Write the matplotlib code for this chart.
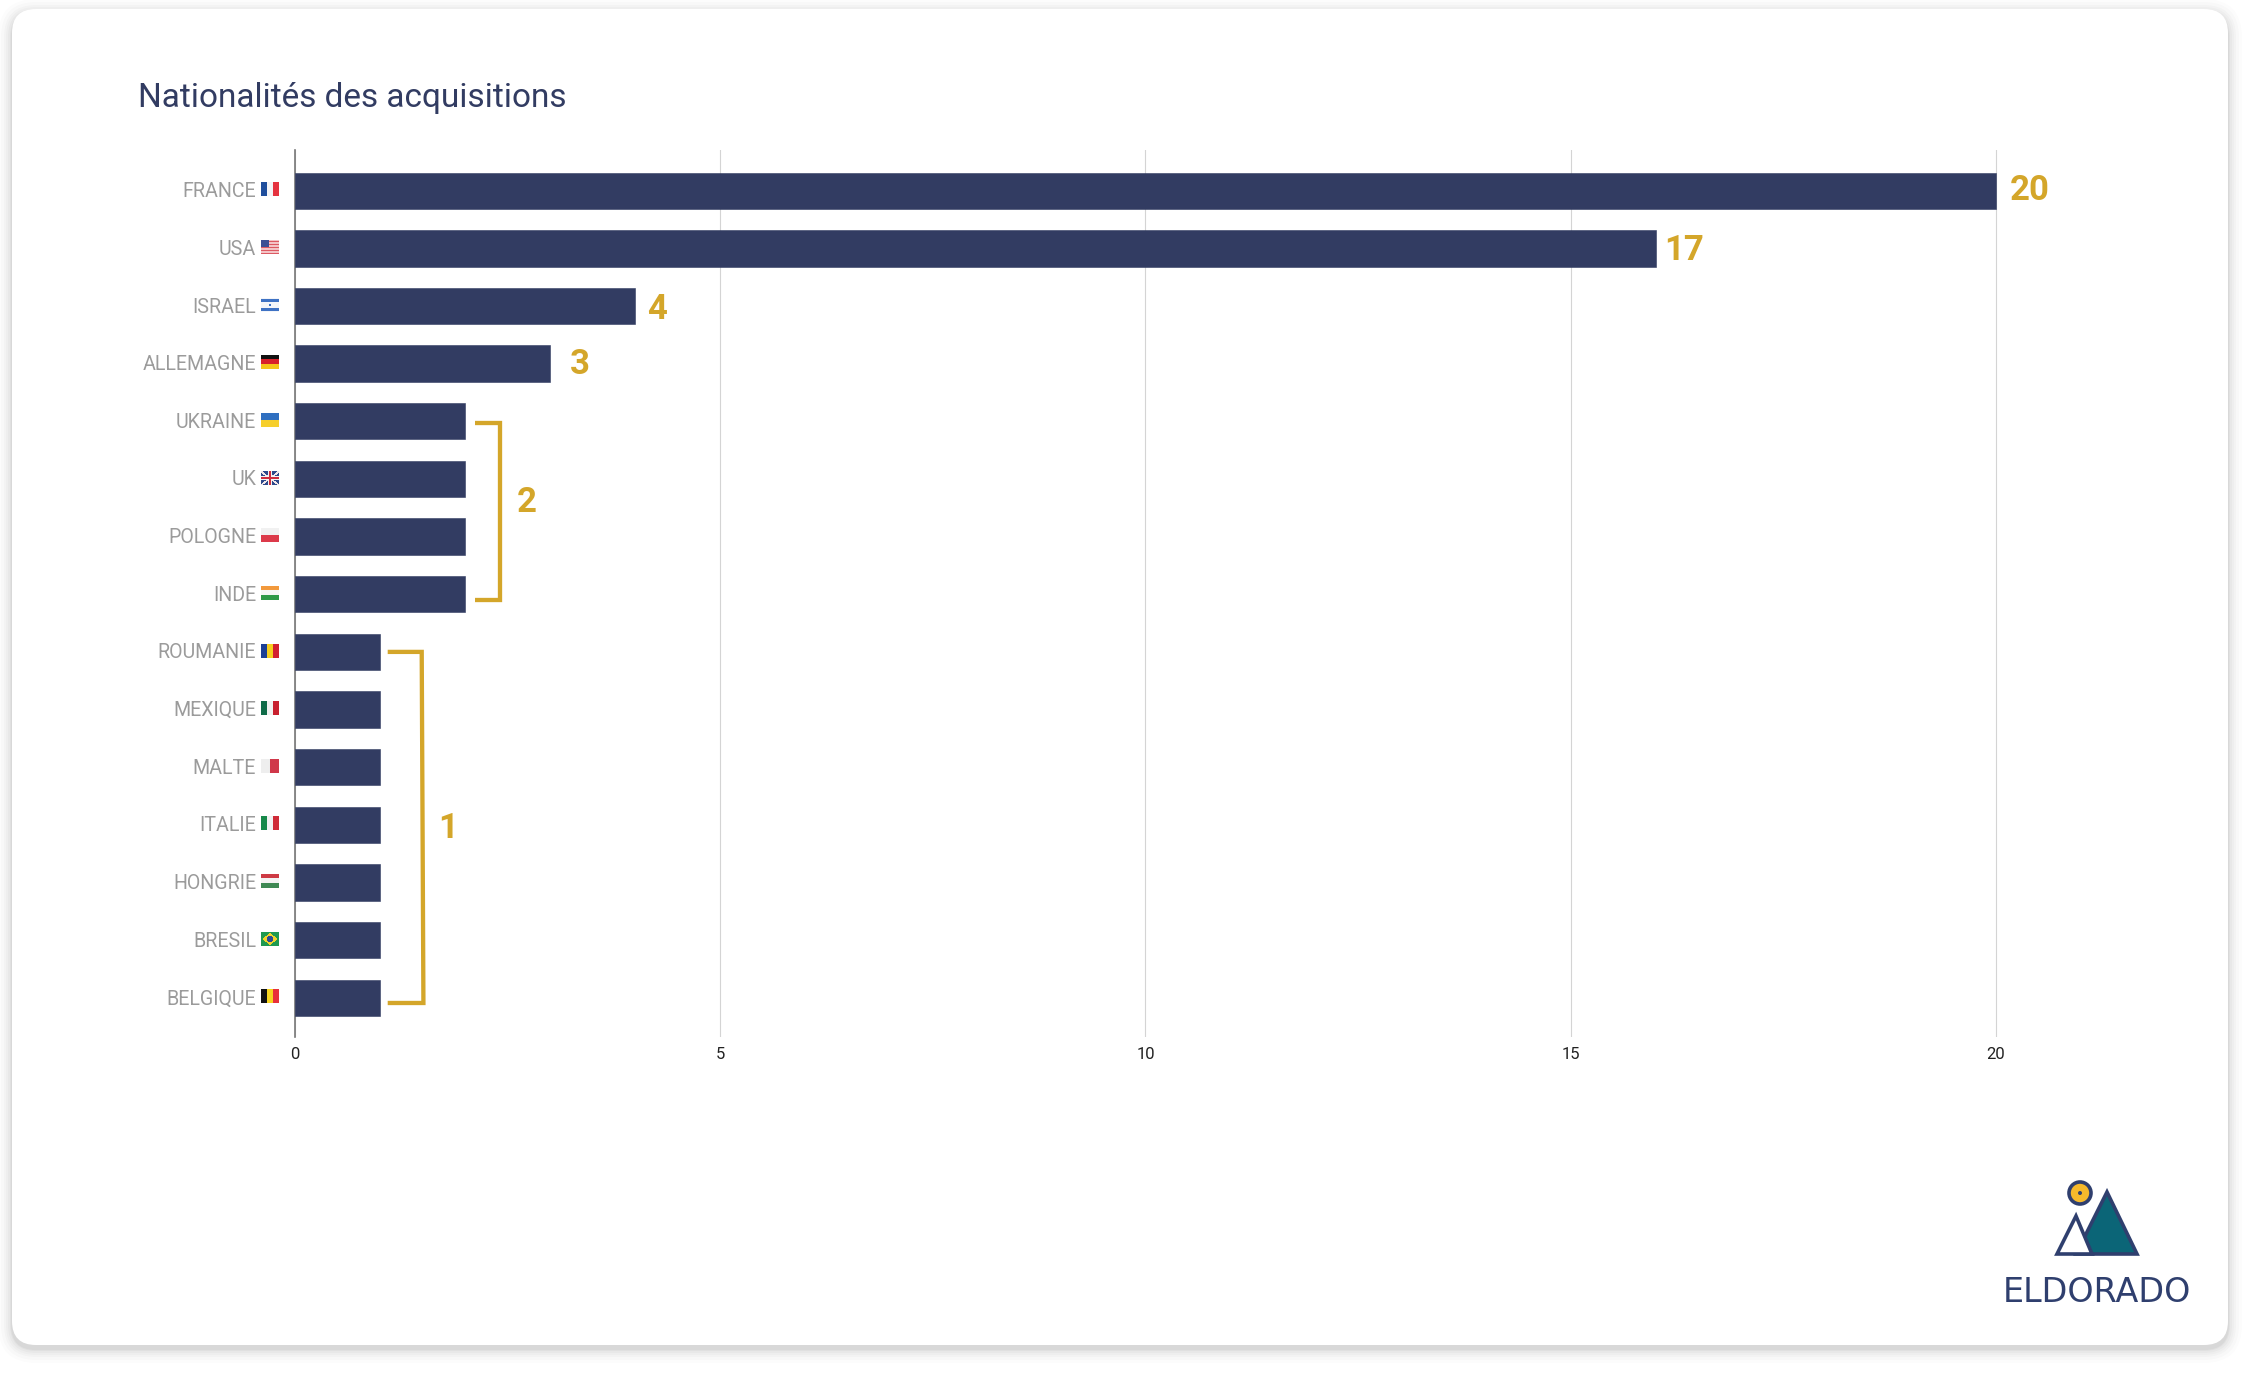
"""
Nationalités des acquisitions - horizontal bars with group brackets.
"""

import numpy as np
import matplotlib
matplotlib.use('Agg')
import matplotlib.pyplot as plt
from matplotlib.patches import FancyBboxPatch, Polygon, Circle
from matplotlib.offsetbox import OffsetImage, AnnotationBbox
from matplotlib.transforms import ScaledTranslation

plt.rcParams['font.family'] = ['Roboto', 'DejaVu Sans']

NAVY = '#323c62'
GOLD = '#d4a62a'
GREY = '#9b9b9b'
W, H = 2256, 1374

COUNTRIES = [
    ('FRANCE', 20, 'fr'), ('USA', 16, 'us'), ('ISRAEL', 4, 'il'),
    ('ALLEMAGNE', 3, 'de'), ('UKRAINE', 2, 'ua'), ('UK', 2, 'uk'),
    ('POLOGNE', 2, 'pl'), ('INDE', 2, 'in'), ('ROUMANIE', 1, 'ro'),
    ('MEXIQUE', 1, 'mx'), ('MALTE', 1, 'mt'), ('ITALIE', 1, 'it'),
    ('HONGRIE', 1, 'hu'), ('BRESIL', 1, 'br'), ('BELGIQUE', 1, 'be'),
]

STRIPES = {
    'fr': ('v', ['#1f4e9c', '#f4f4f6', '#e5333f']),
    'de': ('h', ['#111111', '#d8202a', '#f5c518']),
    'ua': ('h', ['#2f6fc0', '#f6cf2c']),
    'pl': ('h', ['#f2f2f2', '#dc3a4a']),
    'in': ('h', ['#f39a3c', '#f6f6f6', '#2f9a48']),
    'ro': ('v', ['#1d3f94', '#f7ce1e', '#d3202f']),
    'mx': ('v', ['#0f6b48', '#f2f2f2', '#c8202f']),
    'mt': ('v', ['#eeeeee', '#d0384a']),
    'it': ('v', ['#17894a', '#f3f3f3', '#cf2b37']),
    'hu': ('h', ['#ce3a44', '#f4f4f4', '#3f8a55']),
    'be': ('v', ['#111111', '#f6d420', '#e8303a']),
}


def to_rgb(c):
    return np.array(matplotlib.colors.to_rgb(c))


def make_flag(key, h=14, w=18):
    img = np.ones((h, w, 3))
    if key in STRIPES:
        direction, cols = STRIPES[key]
        n = len(cols)
        for j, c in enumerate(cols):
            if direction == 'v':
                img[:, j * w // n:(j + 1) * w // n] = to_rgb(c)
            else:
                img[j * h // n:(j + 1) * h // n, :] = to_rgb(c)
    elif key == 'us':
        img[:] = to_rgb('#f4c4c6')
        img[1::3, :] = to_rgb('#dc5a63')
        img[:7, :8] = to_rgb('#3a4f94')
    elif key == 'il':
        img[:] = to_rgb('#f4f6fa')
        img[1:4, :] = to_rgb('#3e72c4')
        img[10:13, :] = to_rgb('#3e72c4')
        img[6:8, 8:10] = to_rgb('#3e72c4')
    elif key == 'uk':
        img[:] = to_rgb('#2f4a8c')
        for r in range(h):
            c = int(r * (w - 1) / (h - 1))
            img[r, max(c - 1, 0):c + 2] = to_rgb('#f2e6e8')
            img[r, max(w - c - 2, 0):w - c + 1] = to_rgb('#f2e6e8')
        img[5:9, :] = to_rgb('#f4f4f4')
        img[:, 7:11] = to_rgb('#f4f4f4')
        img[6:8, :] = to_rgb('#cf2b3d')
        img[:, 8:10] = to_rgb('#cf2b3d')
    elif key == 'br':
        img[:] = to_rgb('#1f9a50')
        for r in range(h):
            for c in range(w):
                if abs(r - 6.5) / 6 + abs(c - 8.5) / 8 < 1:
                    img[r, c] = to_rgb('#f3d32a')
                if (r - 6.5) ** 2 + (c - 8.5) ** 2 < 9:
                    img[r, c] = to_rgb('#2b4a94')
    return img


fig = plt.figure(figsize=(W / 100, H / 100), dpi=100, facecolor='white')

# fond : carte blanche + ombre, en pixels
bg = fig.add_axes([0, 0, 1, 1], zorder=0)
bg.set_xlim(0, W)
bg.set_ylim(H, 0)
bg.axis('off')
for grow, alpha in zip([14, 11, 8, 6, 4, 2, 1], [0.01, 0.014, 0.018, 0.02, 0.025, 0.03, 0.035]):
    bg.add_patch(FancyBboxPatch(
        (34 - grow, 31 - grow + 4), 2172 + 2 * grow, 1292 + 2 * grow,
        boxstyle=f'round,pad=22,rounding_size={24 + grow}',
        fc='black', ec='none', alpha=alpha))
bg.add_patch(FancyBboxPatch(
    (34, 31), 2172, 1292,
    boxstyle='round,pad=22,rounding_size=24', fc='white', ec='none'))

ax = fig.add_axes([295 / W, 1 - 1037 / H, 1871 / W, 887 / H], zorder=1)
ax.patch.set_alpha(0)

names = [c[0] for c in COUNTRIES]
values = [c[1] for c in COUNTRIES]
ypos = np.arange(len(names))

bars = ax.barh(ypos, values, height=0.63, color=NAVY, edgecolor=NAVY,
               linewidth=0.4, zorder=3)
for b in bars:
    b.set_joinstyle('round')

ax.set_xlim(0, 22)
ax.set_ylim(14.68, -0.706)
ax.set_xticks([0, 5, 10, 15, 20])
ax.set_yticks(ypos, names)
ax.tick_params(axis='x', length=0, pad=7, labelsize=12, labelcolor='#222222')
ax.tick_params(axis='y', length=0, pad=28, labelsize=14.1, labelcolor=GREY)
lift = ScaledTranslation(0, 1 / 100, fig.dpi_scale_trans)
for lab in ax.get_yticklabels():
    lab.set_transform(lab.get_transform() + lift)
ax.xaxis.grid(True, color='#d4d4d4', linewidth=0.8, zorder=0)
ax.set_axisbelow(True)
for side in ['top', 'right', 'bottom']:
    ax.spines[side].set_visible(False)
ax.spines['left'].set_color('#777777')
ax.spines['left'].set_linewidth(1.2)

# drapeaux (pas de police emoji couleur ici)
for i, (_, _, key) in enumerate(COUNTRIES):
    im = OffsetImage(make_flag(key), zoom=0.72, interpolation='bilinear')
    ab = AnnotationBbox(im, (0, i), xycoords=ax.get_yaxis_transform(),
                        xybox=(-18, 1), boxcoords='offset points', frameon=False,
                        annotation_clip=False)
    ax.add_artist(ab)

# valeurs affichées (17 sur la barre USA, comme sur l'original)
LABELS = [(20.16, 0.0, '20', 'left'), (16.1, 1.03, '17', 'left'),
          (4.26, 2.06, '4', 'center'), (3.35, 3.02, '3', 'center'),
          (2.72, 5.41, '2', 'center'), (1.8, 11.06, '1', 'center')]
for x, y, txt, ha in LABELS:
    ax.text(x, y, txt, color=GOLD, fontsize=25, fontweight='bold',
            ha=ha, va='center', zorder=4)

# accolades
BRACKETS = [([2.12, 2.41, 2.41, 2.12], [4.03, 4.03, 7.1, 7.1]),
            ([1.09, 1.49, 1.51, 1.09], [8.0, 8.0, 14.09, 14.09])]
for bx, by in BRACKETS:
    ax.plot(bx, by, color=GOLD, linewidth=3.1, solid_joinstyle='miter',
            solid_capstyle='butt', zorder=4)

fig.text(138 / W, 1 - 98 / H, 'Nationalités des acquisitions', color=NAVY,
         fontsize=24, va='center', ha='left')

# logo Eldorado, en pixels
bg.add_patch(Polygon([(2107, 1192), (2137, 1254), (2076, 1254)], closed=True,
                     fc='#0b6577', ec='#2f3f6e', lw=2.6, joinstyle='miter'))
bg.add_patch(Polygon([(2076, 1216), (2057, 1254), (2092, 1254)], closed=True,
                     fc='white', ec='#2f3f6e', lw=2.6, joinstyle='miter'))
bg.add_patch(Circle((2080, 1193), 11, fc='#f6b92b', ec='#2f3f6e', lw=2.6))
bg.add_patch(Circle((2080, 1193), 2, fc='#2f3f6e', ec='none'))
bg.text(2097, 1292, 'ELDORADO', color='#2f3f6e', fontsize=24,
        fontfamily='DejaVu Sans', ha='center', va='center')

fig.savefig('out.png', dpi=100)
